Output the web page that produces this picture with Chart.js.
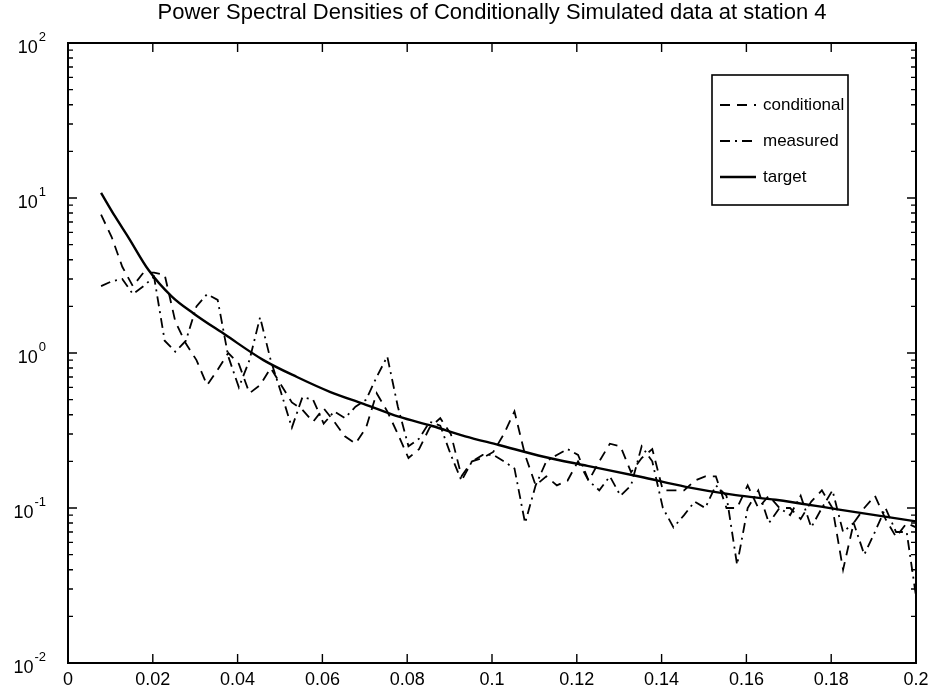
<!DOCTYPE html>
<html><head><meta charset="utf-8">
<script src="https://cdn.jsdelivr.net/npm/chart.js@4.4.1/dist/chart.umd.min.js"></script>
<style>html,body{margin:0;padding:0;background:#fff;}#wrap{width:936px;height:695px;}</style>
</head><body><div id="wrap"><canvas id="c" width="936" height="695"></canvas></div>
<script>
const titleText = 'Power Spectral Densities of Conditionally Simulated data at station 4';
const legendLabels = ['conditional', 'measured', 'target'];
const freq = [0.0078,0.0103,0.0128,0.0153,0.0178,0.0203,0.0228,0.0253,0.0278,0.0303,
0.0328,0.0353,0.0378,0.0403,0.0428,0.0453,0.0478,0.0503,0.0528,0.0553,
0.0578,0.0603,0.0628,0.0653,0.0678,0.0703,0.0728,0.0753,0.0778,0.0803,
0.0828,0.0853,0.0878,0.0903,0.0928,0.0953,0.0978,0.1003,0.1028,0.1053,
0.1078,0.1103,0.1128,0.1153,0.1178,0.1203,0.1228,0.1253,0.1278,0.1303,
0.1328,0.1353,0.1378,0.1403,0.1428,0.1453,0.1478,0.1503,0.1528,0.1553,
0.1578,0.1603,0.1628,0.1653,0.1678,0.1703,0.1728,0.1753,0.1778,0.1803,
0.1828,0.1853,0.1878,0.1903,0.1928,0.1953,0.1978,0.2];
const conditional = [7.8,5.6,3.6,2.7,3.3,3.3,3.2,1.6,1.15,0.9,
0.62,0.78,1.0,0.85,0.55,0.62,0.8,0.62,0.48,0.43,
0.36,0.44,0.36,0.29,0.26,0.33,0.55,0.42,0.3,0.21,
0.24,0.33,0.38,0.3,0.16,0.2,0.21,0.23,0.3,0.42,
0.22,0.14,0.16,0.14,0.15,0.2,0.15,0.2,0.26,0.25,
0.17,0.21,0.24,0.13,0.13,0.13,0.15,0.16,0.16,0.1,
0.1,0.14,0.1,0.12,0.1,0.1,0.085,0.11,0.13,0.1,
0.04,0.08,0.1,0.12,0.085,0.065,0.08,0.075];
const measured = [2.7,2.9,3.0,2.4,2.7,3.1,1.2,1.02,1.2,2.0,
2.4,2.2,0.95,0.6,0.9,1.7,0.9,0.55,0.33,0.52,
0.5,0.35,0.42,0.38,0.45,0.5,0.7,0.95,0.45,0.25,
0.28,0.36,0.34,0.22,0.15,0.2,0.22,0.22,0.2,0.18,
0.08,0.14,0.2,0.22,0.24,0.22,0.15,0.13,0.16,0.12,
0.14,0.25,0.2,0.1,0.075,0.09,0.11,0.1,0.14,0.12,
0.043,0.1,0.13,0.08,0.1,0.09,0.12,0.075,0.1,0.13,
0.07,0.08,0.05,0.07,0.1,0.07,0.07,0.027];
const targetFreq = [0.0078,0.0111,0.0142,0.019,0.0245,0.0296,0.0371,0.0461,0.054,0.0619,0.0697,0.078,0.0859,0.0937,0.1016,0.1122,0.1225,0.135,0.1457,0.1575,0.1669,0.1815,0.2];
const targetPsd = [10.8,7.6,5.6,3.43,2.31,1.80,1.31,0.90,0.70,0.56,0.47,0.388,0.338,0.29,0.255,0.214,0.187,0.159,0.137,0.121,0.113,0.098,0.082];
const xTicks = [0,0.02,0.04,0.06,0.08,0.1,0.12,0.14,0.16,0.18,0.2];
const xTickLabels = ['0','0.02','0.04','0.06','0.08','0.1','0.12','0.14','0.16','0.18','0.2'];
const yTickExponents = [-2,-1,0,1,2];

const FONT = '"Liberation Sans", Arial, Helvetica, sans-serif';
const styles = [
  {dash:[10,7], width:1.8},
  {dash:[10,5,2,5], width:1.8},
  {dash:[], width:2.4}
];

const toPts = (xs, ys) => xs.map((x, i) => ({x: x, y: ys[i]}));

const deco = {
  id: 'deco',
  afterDraw(chart) {
    const ctx = chart.ctx, a = chart.chartArea;
    const xs = chart.scales.x, ys = chart.scales.y;
    ctx.save();
    ctx.strokeStyle = '#000'; ctx.fillStyle = '#000';
    ctx.lineWidth = 2;
    ctx.strokeRect(a.left, a.top, a.right - a.left, a.bottom - a.top);
    ctx.lineWidth = 1.4;
    xTicks.forEach((t, i) => {
      const px = xs.getPixelForValue(t);
      ctx.beginPath();
      ctx.moveTo(px, a.bottom); ctx.lineTo(px, a.bottom - 9);
      ctx.moveTo(px, a.top); ctx.lineTo(px, a.top + 9);
      ctx.stroke();
      ctx.font = '18px ' + FONT;
      ctx.textAlign = 'center'; ctx.textBaseline = 'middle';
      ctx.fillText(xTickLabels[i], px, a.bottom + 17);
    });
    yTickExponents.forEach((e, idx) => {
      const base = Math.pow(10, e);
      const py = ys.getPixelForValue(base);
      ctx.beginPath();
      ctx.moveTo(a.left, py); ctx.lineTo(a.left + 9, py);
      ctx.moveTo(a.right, py); ctx.lineTo(a.right - 9, py);
      ctx.stroke();
      if (idx < yTickExponents.length - 1) {
        for (let m = 2; m <= 9; m++) {
          const pm = ys.getPixelForValue(base * m);
          ctx.beginPath();
          ctx.moveTo(a.left, pm); ctx.lineTo(a.left + 5, pm);
          ctx.moveTo(a.right, pm); ctx.lineTo(a.right - 5, pm);
          ctx.stroke();
        }
      }
      ctx.font = '18px ' + FONT;
      const w10 = ctx.measureText('10').width;
      ctx.font = '13px ' + FONT;
      const es = String(e);
      const we = ctx.measureText(es).width;
      const right = a.left - 23;
      const start = right - w10 - we;
      ctx.textAlign = 'left'; ctx.textBaseline = 'alphabetic';
      ctx.font = '18px ' + FONT;
      ctx.fillText('10', start, py + 10);
      ctx.font = '13px ' + FONT;
      ctx.fillText(es, start + w10 + 1, py - 2);
    });
    ctx.font = '22px ' + FONT;
    ctx.textAlign = 'center'; ctx.textBaseline = 'middle';
    ctx.fillText(titleText, (a.left + a.right) / 2, 13);
    const bx = 712, by = 75, bw = 136, bh = 130;
    ctx.fillStyle = '#fff';
    ctx.fillRect(bx, by, bw, bh);
    ctx.fillStyle = '#000';
    ctx.lineWidth = 1.6;
    ctx.setLineDash([]);
    ctx.strokeRect(bx, by, bw, bh);
    const rows = [105, 141, 177];
    legendLabels.forEach((lab, i) => {
      const ds = chart.data.datasets[i];
      ctx.beginPath();
      ctx.setLineDash(ds.borderDash || []);
      ctx.lineWidth = ds.borderWidth;
      ctx.moveTo(720, rows[i]); ctx.lineTo(756, rows[i]);
      ctx.stroke();
      ctx.setLineDash([]);
      ctx.font = '17px ' + FONT;
      ctx.textAlign = 'left'; ctx.textBaseline = 'middle';
      ctx.fillText(lab, 763, rows[i]);
    });
    ctx.restore();
  }
};

new Chart(document.getElementById('c'), {
  type: 'line',
  data: {
    datasets: [
      {label: legendLabels[0], data: toPts(freq, conditional), borderColor: '#000', borderWidth: styles[0].width, borderDash: styles[0].dash, pointRadius: 0, tension: 0, fill: false},
      {label: legendLabels[1], data: toPts(freq, measured), borderColor: '#000', borderWidth: styles[1].width, borderDash: styles[1].dash, pointRadius: 0, tension: 0, fill: false},
      {label: legendLabels[2], data: toPts(targetFreq, targetPsd), borderColor: '#000', borderWidth: styles[2].width, borderDash: styles[2].dash, pointRadius: 0, cubicInterpolationMode: 'monotone', fill: false}
    ]
  },
  options: {
    responsive: false,
    animation: false,
    layout: {padding: {left: 68, right: 20, top: 43, bottom: 32}},
    plugins: {legend: {display: false}, title: {display: false}, tooltip: {enabled: false}},
    scales: {
      x: {type: 'linear', min: 0, max: 0.2, display: false},
      y: {type: 'logarithmic', min: 0.01, max: 100, display: false}
    }
  },
  plugins: [deco]
});
</script>
</body></html>
